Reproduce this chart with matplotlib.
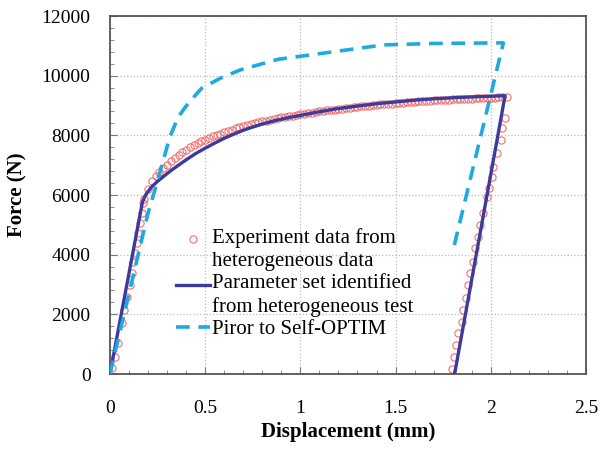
"""Force vs displacement: experiment, identified parameters, prior to Self-OPTIM."""
import numpy as np
import matplotlib
matplotlib.use("Agg")
import matplotlib.pyplot as plt
from matplotlib.ticker import MultipleLocator
from matplotlib.legend_handler import HandlerLine2D

plt.rcParams["font.family"] = ["Liberation Serif", "DejaVu Serif"]

# experiment data (loading + unloading)
exp_x = [0.009, 0.026, 0.044, 0.061, 0.075, 0.088, 0.105, 0.114, 0.122, 0.131, 0.140,
         0.149, 0.158, 0.166, 0.175,
         0.18, 0.20, 0.22, 0.24, 0.26, 0.28, 0.30, 0.32, 0.34, 0.36, 0.38, 0.40,
         0.42, 0.44, 0.46, 0.48, 0.50, 0.52, 0.54, 0.56, 0.58, 0.60, 0.62, 0.64,
         0.66, 0.68, 0.70, 0.72, 0.74, 0.76, 0.78, 0.80, 0.82, 0.84, 0.86, 0.88,
         0.90, 0.92, 0.94, 0.96, 0.98, 1.00, 1.02, 1.04, 1.06, 1.08, 1.10, 1.12,
         1.14, 1.16, 1.18, 1.20, 1.22, 1.24, 1.26, 1.28, 1.30, 1.32, 1.34, 1.36,
         1.38, 1.40, 1.42, 1.44, 1.46, 1.48, 1.50, 1.52, 1.54, 1.56, 1.58, 1.60,
         1.62, 1.64, 1.66, 1.68, 1.70, 1.72, 1.74, 1.76, 1.78, 1.80, 1.82, 1.84,
         1.86, 1.88, 1.90, 1.92, 1.94, 1.96, 1.98, 2.00, 2.02, 2.04, 2.06, 2.083,
         2.075, 2.057, 2.052, 2.034, 2.013, 2.005, 1.992, 1.982, 1.961, 1.943,
         1.934, 1.917, 1.905, 1.891, 1.882, 1.870, 1.856, 1.847, 1.829, 1.817,
         1.807, 1.795]
exp_f = [190, 580, 1030, 1700, 2150, 2590, 2984, 3376, 3765, 4070, 4380,
         4717, 5052, 5387, 5722,
         5850, 6200, 6460, 6640, 6780, 6900, 7020, 7140, 7250, 7350, 7440, 7520,
         7600, 7670, 7740, 7800, 7860, 7915, 7965, 8015, 8060, 8105, 8150, 8190,
         8230, 8270, 8305, 8340, 8375, 8405, 8435, 8465, 8495, 8525, 8550, 8575,
         8600, 8625, 8645, 8665, 8685, 8705, 8725, 8745, 8765, 8785, 8800, 8820,
         8835, 8850, 8865, 8880, 8895, 8910, 8925, 8940, 8955, 8970, 8985, 8995,
         9010, 9020, 9035, 9045, 9055, 9065, 9080, 9090, 9100, 9110, 9120, 9130,
         9140, 9145, 9155, 9165, 9170, 9180, 9185, 9195, 9200, 9205, 9215, 9220,
         9225, 9230, 9235, 9240, 9245, 9250, 9255, 9260, 9265, 9270, 9275, 9296,
         8572, 8237, 7844, 7398, 6950, 6614, 6225, 5944, 5386, 4995,
         4603, 4213, 3765, 3376, 2984, 2538, 2146, 1753, 1364, 972,
         580, 158]

# parameter set identified from heterogeneous test
par_x = [0.0, 0.17, 0.185, 0.20, 0.22, 0.25, 0.28, 0.32, 0.36, 0.40, 0.45, 0.50,
         0.55, 0.60, 0.65, 0.70, 0.75, 0.80, 0.875, 0.95, 1.00, 1.10, 1.18, 1.26,
         1.40, 1.50, 1.60, 1.70, 1.80, 1.90, 2.00, 2.075, 1.81]
par_f = [0, 5750, 5980, 6120, 6280, 6460, 6615, 6820, 7000, 7180, 7390, 7570,
         7740, 7900, 8040, 8170, 8280, 8380, 8510, 8610, 8670, 8790, 8880, 8950,
         9060, 9120, 9180, 9225, 9260, 9290, 9310, 9330, 0]

# prior to Self-OPTIM
pri_x = [0.0, 0.10, 0.20, 0.236, 0.28, 0.315, 0.359, 0.411, 0.481, 0.578, 0.683,
         0.805, 0.884, 1.00, 1.172, 1.434, 1.70, 2.066, 1.80]
pri_f = [0, 2700, 5400, 6170, 7170, 7955, 8625, 9075, 9575, 9910, 10190,
         10410, 10550, 10650, 10800, 11030, 11080, 11100, 4100]


class FirstLineHandler(HandlerLine2D):
    # put the legend handle next to the first line of a two-line label
    def __init__(self, shift, **kw):
        super().__init__(**kw)
        self.shift = shift

    def create_artists(self, legend, orig_handle, xdescent, ydescent,
                       width, height, fontsize, trans):
        return super().create_artists(legend, orig_handle, xdescent,
                                      ydescent - 2 * self.shift, width, height,
                                      fontsize, trans)


fig, ax = plt.subplots(figsize=(6.01, 4.51), dpi=100)
fig.subplots_adjust(left=0.183, right=0.975, top=0.9645, bottom=0.1707)

l_exp, = ax.plot(exp_x, exp_f, ls="none", marker="o", ms=5.2, mfc="none",
                 mec="#f07070", mew=0.8,
                 label="Experiment data from\nheterogeneous data", zorder=2)
l_par, = ax.plot(par_x, par_f, color="#3b3b9c", lw=2.4,
                 label="Parameter set identified\nfrom heterogeneous test", zorder=3)
ax.plot(pri_x, pri_f, color="#1ea9e1", lw=2.6, ls=(0, (3.8, 2.4)),
        label="Piror to Self-OPTIM", zorder=3)

ax.set_xlim(0, 2.5)
ax.set_ylim(0, 12000)
ax.xaxis.set_major_locator(MultipleLocator(0.5))
ax.xaxis.set_minor_locator(MultipleLocator(0.1))
ax.yaxis.set_major_locator(MultipleLocator(2000))
ax.yaxis.set_minor_locator(MultipleLocator(400))
ax.xaxis.set_major_formatter(plt.FuncFormatter(lambda v, p: f"{v:g}"))
ax.tick_params(which="both", direction="in", top=False, right=False,
               labelsize=14, color="#777777")
ax.tick_params(which="major", length=5)
ax.tick_params(axis="x", which="major", pad=19)
ax.tick_params(axis="y", which="major", pad=14)
ax.tick_params(which="minor", length=3)
ax.grid(True, which="major", color="#bbbbbb", ls=":", lw=0.9)
for s in ax.spines.values():
    s.set_color("#555555")
    s.set_linewidth(1.3)

ax.set_xlabel("Displacement (mm)", fontsize=15, fontweight="bold", labelpad=3)
ax.set_ylabel("Force (N)", fontsize=15, fontweight="bold", labelpad=10)

hmap = {l_exp: FirstLineHandler(7.5), l_par: FirstLineHandler(7.5)}
leg = ax.legend(loc="upper left", bbox_to_anchor=(0.122, 0.43), frameon=False,
                fontsize=15, handlelength=1.6, handletextpad=0.1, labelspacing=0.15,
                borderaxespad=0, handler_map=hmap)
for t in leg.get_texts():
    t.set_linespacing(1.25)

fig.savefig("out.png", dpi=100)
